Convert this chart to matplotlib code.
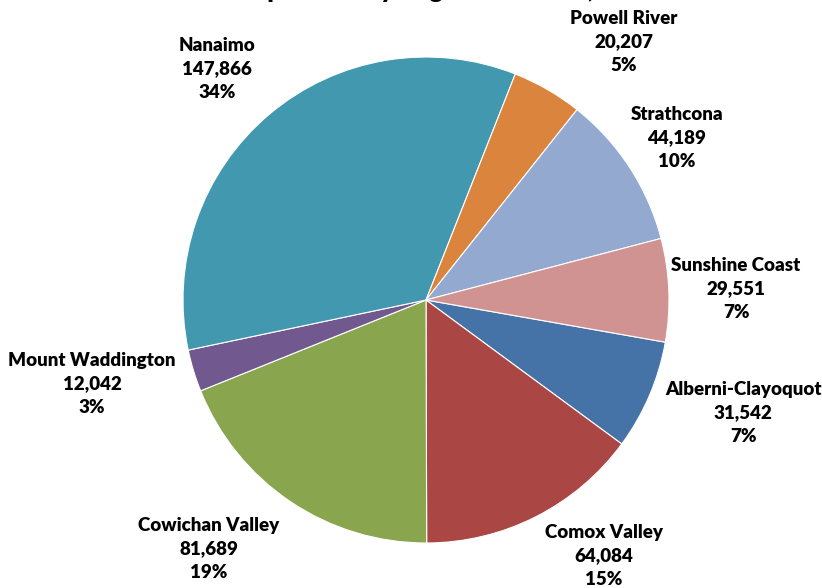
import matplotlib
matplotlib.use('Agg')
import matplotlib.pyplot as plt

# Population by regional district (clockwise, alphabetical)
districts = ['Alberni-Clayoquot', 'Comox Valley', 'Cowichan Valley', 'Mount Waddington',
             'Nanaimo', 'Powell River', 'Strathcona', 'Sunshine Coast']
population = [31542, 64084, 81689, 12042, 147866, 20207, 44189, 29551]
colors = ['#4572A7', '#AA4643', '#89A54E', '#71588F', '#4198AF', '#DB843D', '#93A9CF', '#D19392']

# label centres in pixel coords (from top-left)
label_pos = [(743, 413), (604, 556), (209, 549), (92, 384),
             (217, 69), (624, 42), (677, 138), (736, 289)]

W, H = 822, 588
fig = plt.figure(figsize=(W / 100, H / 100), dpi=100)
ax = fig.add_axes([0, 0, 1, 1])

ax.pie(population, colors=colors, startangle=-10, counterclock=False,
       radius=243, center=(426, H - 300), frame=True,
       wedgeprops=dict(edgecolor='white', linewidth=0.8))
ax.set_xlim(0, W)
ax.set_ylim(0, H)
ax.set_aspect('equal')
ax.axis('off')

total = sum(population)
for name, val, (px, py) in zip(districts, population, label_pos):
    pct = round(100 * val / total)
    ax.text(px, H - py, f'{name}\n{val:,}\n{pct}%', ha='center', va='center',
            fontsize=13.5, fontweight='heavy', family='Lato', linespacing=1.45)

# title sits mostly above the canvas, as in the source image
ax.text(447, H + 2, 'Population by Regional District, 2011', ha='center', va='baseline',
        fontsize=18, fontweight='heavy', family='Lato', clip_on=False)

fig.savefig('out.png', dpi=100)
